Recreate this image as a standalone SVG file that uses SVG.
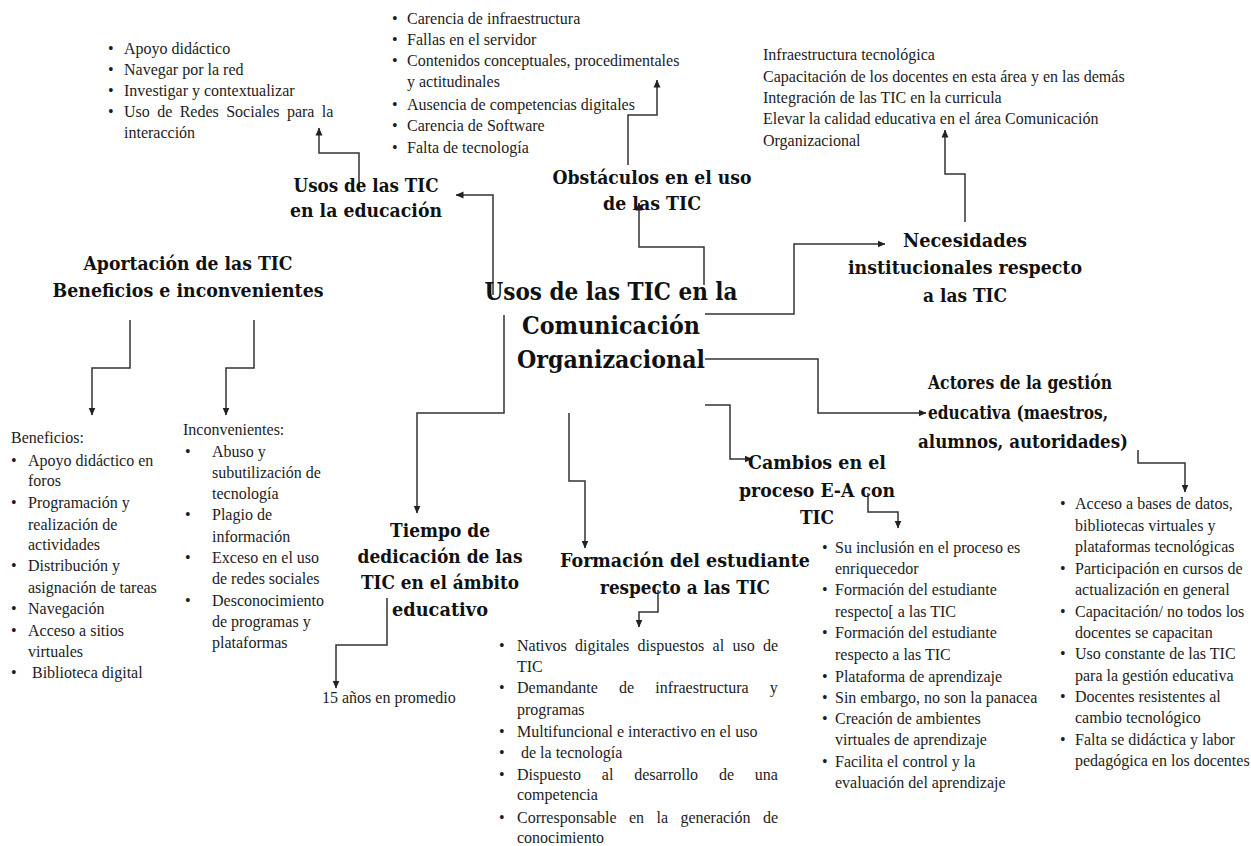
<svg xmlns="http://www.w3.org/2000/svg" width="1251" height="846" viewBox="0 0 1251 846">
<style>
.t{font-family:"Liberation Serif","Times New Roman",serif;font-size:16px;fill:#1c1c1c}
.h{font-family:"DejaVu Serif","Liberation Serif",serif;font-size:19px;font-weight:bold;fill:#111;text-anchor:middle}
.ttl{font-size:25px}
.c{fill:none;stroke:#333;stroke-width:1.5;marker-end:url(#arr)}
</style>
<defs>
<marker id="arr" markerWidth="8" markerHeight="8" refX="7.5" refY="4" orient="auto" markerUnits="userSpaceOnUse">
<path d="M0,0.5 L8,4 L0,7.5 z" fill="#222"/>
</marker>
</defs>
<rect width="1251" height="846" fill="#fff"/>

<g id="connectors">
<path class="c" d="M359,190 V153 H319 V128"/>
<path class="c" d="M493,295 V195 H456"/>
<path class="c" d="M628,165 V115 H657 V80"/>
<path class="c" d="M704,285 V247 H639 V203"/>
<path class="c" d="M965,222 V174 H945 V130"/>
<path class="c" d="M705,314 H794 V244 H885"/>
<path class="c" d="M705,359 H818 V413 H926"/>
<path class="c" d="M705,405 H730 V459 H752"/>
<path class="c" d="M504,315 V413 H417 V513"/>
<path class="c" d="M569,413 V481 H585 V548"/>
<path class="c" d="M130,320 V368 H92 V415"/>
<path class="c" d="M254,320 V368 H226 V415"/>
<path class="c" d="M387,598 V645 H336 V688"/>
<path class="c" d="M658,590 V612 H639 V627"/>
<path class="c" d="M868,493 V512 H898 V528"/>
<path class="c" d="M1138,450 V463 H1185 V492"/>
</g>

<g id="center">
<text class="h ttl" x="611" y="300" textLength="253" lengthAdjust="spacingAndGlyphs">Usos de las TIC en la</text>
<text class="h ttl" x="611" y="334" textLength="178" lengthAdjust="spacingAndGlyphs">Comunicación</text>
<text class="h ttl" x="611" y="368" textLength="188" lengthAdjust="spacingAndGlyphs">Organizacional</text>
</g>

<g id="usos-educacion">
<text class="h" x="366" y="192" textLength="145" lengthAdjust="spacingAndGlyphs">Usos de las TIC</text>
<text class="h" x="366" y="217" textLength="152" lengthAdjust="spacingAndGlyphs">en la educación</text>
</g>

<g id="usos-educacion-list">
<text class="t" x="108" y="54">•</text><text class="t" x="124" y="54">Apoyo didáctico</text>
<text class="t" x="108" y="75">•</text><text class="t" x="124" y="75">Navegar por la red</text>
<text class="t" x="108" y="96">•</text><text class="t" x="124" y="96">Investigar y contextualizar</text>
<text class="t" x="108" y="117">•</text><text class="t" x="124" y="117" word-spacing="3.4">Uso de Redes Sociales para la</text>
<text class="t" x="124" y="138">interacción</text>
</g>

<g id="obstaculos">
<text class="h" x="652" y="184" textLength="199" lengthAdjust="spacingAndGlyphs">Obstáculos en el uso</text>
<text class="h" x="652" y="210" textLength="98" lengthAdjust="spacingAndGlyphs">de las TIC</text>
</g>

<g id="obstaculos-list">
<text class="t" x="392" y="24">•</text><text class="t" x="407" y="24">Carencia de infraestructura</text>
<text class="t" x="392" y="45">•</text><text class="t" x="407" y="45">Fallas en el servidor</text>
<text class="t" x="392" y="66">•</text><text class="t" x="407" y="66">Contenidos conceptuales, procedimentales</text>
<text class="t" x="407" y="87">y actitudinales</text>
<text class="t" x="392" y="110">•</text><text class="t" x="407" y="110">Ausencia de competencias digitales</text>
<text class="t" x="392" y="131">•</text><text class="t" x="407" y="131">Carencia de Software</text>
<text class="t" x="392" y="153">•</text><text class="t" x="407" y="153">Falta de tecnología</text>
</g>

<g id="necesidades">
<text class="h" x="965" y="247" textLength="124" lengthAdjust="spacingAndGlyphs">Necesidades</text>
<text class="h" x="965" y="274" textLength="234" lengthAdjust="spacingAndGlyphs">institucionales respecto</text>
<text class="h" x="965" y="302" textLength="84" lengthAdjust="spacingAndGlyphs">a las TIC</text>
</g>

<g id="necesidades-list">
<text class="t" x="763" y="60">Infraestructura tecnológica</text>
<text class="t" x="763" y="82">Capacitación de los docentes en esta área y en las demás</text>
<text class="t" x="763" y="103">Integración de las TIC en la curricula</text>
<text class="t" x="763" y="124">Elevar la calidad educativa en el área Comunicación</text>
<text class="t" x="763" y="146">Organizacional</text>
</g>

<g id="aportacion">
<text class="h" x="188" y="270" textLength="209" lengthAdjust="spacingAndGlyphs">Aportación de las TIC</text>
<text class="h" x="188" y="297" textLength="271" lengthAdjust="spacingAndGlyphs">Beneficios e inconvenientes</text>
</g>

<g id="beneficios">
<text class="t" x="11" y="443">Beneficios:</text>
<text class="t" x="11" y="466">•</text><text class="t" x="28" y="466">Apoyo didáctico en</text>
<text class="t" x="28" y="486">foros</text>
<text class="t" x="11" y="508">•</text><text class="t" x="28" y="508">Programación y</text>
<text class="t" x="28" y="530">realización de</text>
<text class="t" x="28" y="550">actividades</text>
<text class="t" x="11" y="571">•</text><text class="t" x="28" y="571">Distribución y</text>
<text class="t" x="28" y="593">asignación de tareas</text>
<text class="t" x="11" y="614">•</text><text class="t" x="28" y="614">Navegación</text>
<text class="t" x="11" y="636">•</text><text class="t" x="28" y="636">Acceso a sitios</text>
<text class="t" x="28" y="657">virtuales</text>
<text class="t" x="11" y="678">•</text><text class="t" x="32" y="678">Biblioteca digital</text>
</g>

<g id="inconvenientes">
<text class="t" x="183" y="435">Inconvenientes:</text>
<text class="t" x="185" y="457">•</text><text class="t" x="212" y="457">Abuso y</text>
<text class="t" x="212" y="478">subutilización de</text>
<text class="t" x="212" y="499">tecnología</text>
<text class="t" x="185" y="520">•</text><text class="t" x="212" y="520">Plagio de</text>
<text class="t" x="212" y="542">información</text>
<text class="t" x="185" y="563">•</text><text class="t" x="212" y="563">Exceso en el uso</text>
<text class="t" x="212" y="584">de redes sociales</text>
<text class="t" x="185" y="606">•</text><text class="t" x="212" y="606">Desconocimiento</text>
<text class="t" x="212" y="627">de programas y</text>
<text class="t" x="212" y="648">plataformas</text>
</g>

<g id="tiempo">
<text class="h" x="440" y="537" textLength="100" lengthAdjust="spacingAndGlyphs">Tiempo de</text>
<text class="h" x="440" y="563" textLength="165" lengthAdjust="spacingAndGlyphs">dedicación de las</text>
<text class="h" x="440" y="589" textLength="158" lengthAdjust="spacingAndGlyphs">TIC en el ámbito</text>
<text class="h" x="440" y="616" textLength="96" lengthAdjust="spacingAndGlyphs">educativo</text>
</g>

<g id="tiempo-value">
<text class="t" x="322" y="703">15 años en promedio</text>
</g>

<g id="formacion">
<text class="h" x="685" y="567" style="font-size:18px" textLength="250" lengthAdjust="spacingAndGlyphs">Formación del estudiante</text>
<text class="h" x="685" y="594" textLength="170" lengthAdjust="spacingAndGlyphs">respecto a las TIC</text>
</g>

<g id="formacion-list">
<text class="t" x="499" y="651">•</text><text class="t" x="517" y="651" word-spacing="4.3">Nativos digitales dispuestos al uso de</text>
<text class="t" x="517" y="672">TIC</text>
<text class="t" x="499" y="693">•</text><text class="t" x="517" y="693" word-spacing="17.2">Demandante de infraestructura y</text>
<text class="t" x="517" y="715">programas</text>
<text class="t" x="499" y="737">•</text><text class="t" x="517" y="737">Multifuncional e interactivo en el uso</text>
<text class="t" x="499" y="758">•</text><text class="t" x="521" y="758">de la tecnología</text>
<text class="t" x="499" y="780">•</text><text class="t" x="517" y="780" word-spacing="16.8">Dispuesto al desarrollo de una</text>
<text class="t" x="517" y="800">competencia</text>
<text class="t" x="499" y="823">•</text><text class="t" x="517" y="823" word-spacing="8.4">Corresponsable en la generación de</text>
<text class="t" x="517" y="843">conocimiento</text>
</g>

<g id="cambios">
<text class="h" x="817" y="469" textLength="138" lengthAdjust="spacingAndGlyphs">Cambios en el</text>
<text class="h" x="817" y="497" textLength="156" lengthAdjust="spacingAndGlyphs">proceso E-A con</text>
<text class="h" x="817" y="524" textLength="34" lengthAdjust="spacingAndGlyphs">TIC</text>
</g>

<g id="cambios-list">
<text class="t" x="822" y="553">•</text><text class="t" x="835" y="553">Su inclusión en el proceso es</text>
<text class="t" x="835" y="574">enriquecedor</text>
<text class="t" x="822" y="595">•</text><text class="t" x="835" y="595">Formación del estudiante</text>
<text class="t" x="835" y="617">respecto[ a las TIC</text>
<text class="t" x="822" y="638">•</text><text class="t" x="835" y="638">Formación del estudiante</text>
<text class="t" x="835" y="660">respecto a las TIC</text>
<text class="t" x="822" y="682">•</text><text class="t" x="835" y="682">Plataforma de aprendizaje</text>
<text class="t" x="822" y="703">•</text><text class="t" x="835" y="703">Sin embargo, no son la panacea</text>
<text class="t" x="822" y="724">•</text><text class="t" x="835" y="724">Creación de ambientes</text>
<text class="t" x="835" y="745">virtuales de aprendizaje</text>
<text class="t" x="822" y="767">•</text><text class="t" x="835" y="767">Facilita el control y la</text>
<text class="t" x="835" y="788">evaluación del aprendizaje</text>
</g>

<g id="actores">
<text class="h" x="1020" y="389" textLength="184" lengthAdjust="spacingAndGlyphs">Actores de la gestión</text>
<text class="h" x="1018" y="419" textLength="180" lengthAdjust="spacingAndGlyphs">educativa (maestros,</text>
<text class="h" x="1023" y="448" textLength="210" lengthAdjust="spacingAndGlyphs">alumnos, autoridades)</text>
</g>

<g id="actores-list">
<text class="t" x="1060" y="509">•</text><text class="t" x="1075" y="509">Acceso a bases de datos,</text>
<text class="t" x="1075" y="531">bibliotecas virtuales y</text>
<text class="t" x="1075" y="552">plataformas tecnológicas</text>
<text class="t" x="1060" y="574">•</text><text class="t" x="1075" y="574">Participación en cursos de</text>
<text class="t" x="1075" y="595">actualización en general</text>
<text class="t" x="1060" y="617">•</text><text class="t" x="1075" y="617">Capacitación/ no todos los</text>
<text class="t" x="1075" y="638">docentes se capacitan</text>
<text class="t" x="1060" y="659">•</text><text class="t" x="1075" y="659">Uso constante de las TIC</text>
<text class="t" x="1075" y="681">para la gestión educativa</text>
<text class="t" x="1060" y="702">•</text><text class="t" x="1075" y="702">Docentes resistentes al</text>
<text class="t" x="1075" y="723">cambio tecnológico</text>
<text class="t" x="1060" y="745">•</text><text class="t" x="1075" y="745">Falta se didáctica y labor</text>
<text class="t" x="1075" y="766">pedagógica en los docentes</text>
</g>
</svg>
